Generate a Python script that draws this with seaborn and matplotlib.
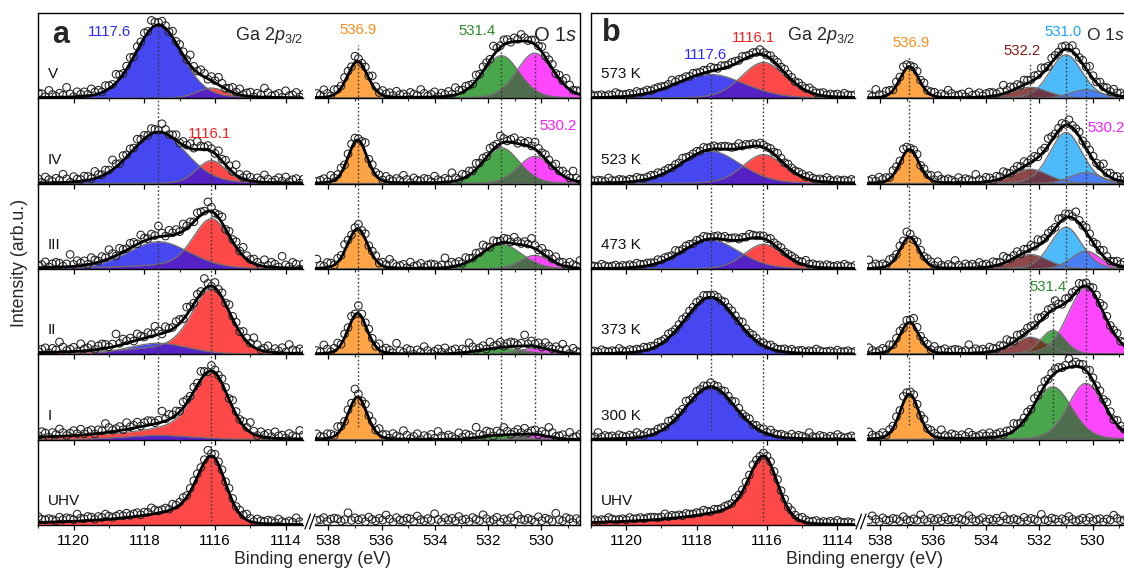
import numpy as np
import matplotlib
matplotlib.use("Agg")
import matplotlib.pyplot as plt
from matplotlib.ticker import FixedLocator, MultipleLocator
import seaborn as sns

# ---------------- data ----------------
ROWS_A = ["V", "IV", "III", "II", "I", "UHV"]
ROWS_B = ["573 K", "523 K", "473 K", "373 K", "300 K", "UHV"]
GA_TICKS = [1120, 1118, 1116, 1114]
O_TICKS = [538, 536, 534, 532, 530]
GA_LIM = [1121.0, 1113.5]
O_LIM = [538.5, 528.55]

# peak positions (eV) as drawn
GA_BLUE_C = 1117.6
GA_RED_C = 1116.1
O_ORANGE_C = 536.9
O_BROWN_C = 532.35
O_GREEN_C = 531.5
O_LBLUE_C = 531.0
O_MAGENTA_C = 530.25

# panel a, Ga 2p3/2 (rows V..UHV): height (row units), fwhm (eV), high-BE tail
A_GA_BLUE_H = [0.86, 0.60, 0.32, 0.13, 0.05, 0.0]
A_GA_BLUE_W = [1.55, 1.85, 2.1, 2.0, 2.4, 1.0]
A_GA_RED_H = [0.12, 0.27, 0.59, 0.77, 0.79, 0.81]
A_GA_RED_W = [1.0, 1.0, 1.2, 1.25, 1.15, 0.95]
A_GA_RED_T = [0.0, 0.0, 0.1, 0.15, 0.25, 0.25]

# panel a, O 1s
A_O_OR_H = [0.43, 0.51, 0.47, 0.48, 0.50, 0.0]
A_O_OR_W = [0.9, 0.85, 0.9, 0.85, 0.85, 1.0]
A_O_GR_H = [0.50, 0.42, 0.29, 0.07, 0.05, 0.0]
A_O_GR_W = [1.6, 1.6, 1.8, 2.0, 1.8, 1.0]
A_O_MG_H = [0.53, 0.32, 0.16, 0.07, 0.05, 0.0]
A_O_MG_W = [1.6, 1.5, 1.3, 1.5, 1.3, 1.0]

# panel b, Ga 2p3/2 (rows 573 K..UHV)
B_GA_BLUE_H = [0.28, 0.38, 0.34, 0.67, 0.62, 0.0]
B_GA_BLUE_W = [2.3, 2.0, 1.9, 1.75, 1.7, 1.0]
B_GA_RED_H = [0.42, 0.34, 0.29, 0.0, 0.0, 0.81]
B_GA_RED_W = [1.5, 1.4, 1.3, 1.0, 1.0, 0.95]
B_GA_RED_T = [0.0, 0.0, 0.0, 0.0, 0.0, 0.25]

# panel b, O 1s
B_O_OR_H = [0.37, 0.40, 0.37, 0.37, 0.53, 0.0]
B_O_OR_W = [0.85, 0.85, 0.85, 0.85, 0.85, 1.0]
B_O_BR_H = [0.13, 0.17, 0.17, 0.20, 0.0, 0.0]
B_O_BR_W = [1.6, 1.6, 1.6, 1.5, 1.0, 1.0]
B_O_GR_H = [0.0, 0.0, 0.0, 0.28, 0.62, 0.0]
B_O_GR_W = [1.0, 1.0, 1.0, 1.1, 1.7, 1.0]
B_O_LB_H = [0.51, 0.60, 0.49, 0.0, 0.0, 0.0]
B_O_LB_W = [1.45, 1.45, 1.4, 1.0, 1.0, 1.0]
B_O_MG_H = [0.10, 0.13, 0.21, 0.78, 0.66, 0.0]
B_O_MG_W = [1.4, 1.4, 1.3, 1.6, 1.6, 1.0]

# scatter of the measured points about the fit (read pattern, in units of row noise level)
NOISE = [0.3, -0.6, 0.9, 0.1, -0.2, 1.4, -0.8, 0.5, 0.0, -0.4,
         0.7, 2.2, -0.1, 0.4, -0.9, 0.6, 0.2, -0.5, 1.1, -0.3,
         0.8, 0.0, -0.7, 0.3, 1.6, -0.2, 0.5, -1.0, 0.4, 0.9,
         -0.4, 0.1, 2.6, -0.6, 0.2, 0.7, -0.3, 1.2, -0.8, 0.0,
         0.6, -0.1, 0.3, 1.8, -0.5, 0.8, -0.2, 0.4, -0.9, 1.0,
         0.1, -0.6, 0.5, 2.0, -0.3, 0.2, 0.9, -0.7, 0.3, 0.0,
         1.3, -0.4, 0.6, -0.1, 0.8, -0.8, 0.2, 2.4, -0.2, 0.5,
         -0.5, 0.1, 1.5, -0.6, 0.4, 0.7, -0.3, 0.0, 0.9, -0.9,
         0.3, 1.9, -0.1, 0.6, -0.4, 0.2, 1.1, -0.7, 0.5, 0.0,
         0.8, -0.2, 2.8, 0.1, -0.5, 0.4, 0.7]
A_GA_NOISE = [0.035, 0.035, 0.04, 0.04, 0.035, 0.02]
A_O_NOISE = [0.03, 0.03, 0.03, 0.035, 0.035, 0.03]
B_GA_NOISE = [0.012, 0.012, 0.012, 0.012, 0.018, 0.012]
B_O_NOISE = [0.025, 0.025, 0.025, 0.025, 0.025, 0.025]
O_UHV_LEVEL = 0.06

# ---------------- style ----------------
sns.set_theme(style="ticks")
plt.rcParams["font.family"] = ["Liberation Sans", "DejaVu Sans"]
plt.rcParams["mathtext.fontset"] = "custom"
plt.rcParams["mathtext.rm"] = "Liberation Sans"
plt.rcParams["mathtext.it"] = "Liberation Sans:italic"
plt.rcParams["mathtext.bf"] = "Liberation Sans:bold"

FILL = {"blue": "#4747f2", "red": "#ff4949", "orange": "#ffa445", "green": "#4aa64a",
        "magenta": "#ff46ff", "lblue": "#4dbbfb", "brown": "#8e4848"}
OVER = {("blue", "red"): "#5522c6", ("green", "magenta"): "#4f6c4f",
        ("lblue", "magenta"): "#4a7ff4", ("brown", "lblue"): "#6e3848",
        ("brown", "green"): "#6b3d22", ("brown", "magenta"): "#7a3a5a",
        ("green", "lblue"): "#3f7f7f"}
TXT = {"blue": "#2b2bff", "red": "#ff1f1f", "orange": "#ff8c1a", "green": "#2e8b2e",
       "magenta": "#ff1aff", "lblue": "#1aa3ff", "brown": "#8b1a1a"}

W, H = 1124, 570
fig = plt.figure(figsize=(W / 100, H / 100), dpi=100)
TOP, BOT = 13.0, 525.0
RH = (BOT - TOP) / 6
COLS = {"aGa": (38.3, 303.3), "aO": (315.0, 580.0), "bGa": (591.0, 855.0), "bO": (867.0, 1131.0)}


def rect(x0, x1, yt, yb):
    return [x0 / W, 1 - yb / H, (x1 - x0) / W, (yb - yt) / H]


def peak(x, c, h, w, tail=0.0, eta=0.2, tail_w=2.0):
    d = x - c
    core = (1 - eta) * np.exp(-4 * np.log(2) * d ** 2 / w ** 2) + eta / (1 + 4 * d ** 2 / w ** 2)
    t = np.where(d > 0, tail, 0.0)
    return h * ((1 - t) * core + t / (1 + (d / tail_w) ** 2))


def draw_row(ax, comps, xlim, step, amp, start, level):
    xf = np.linspace(xlim[1], xlim[0], 800)
    curves = [(n, peak(xf, c, h, w, t)) for n, c, h, w, t in comps if h > 0]
    for n, y in curves:
        ax.fill_between(xf, 0, y, color=FILL[n], lw=0, zorder=1)
    for i in range(len(curves)):
        for j in range(i + 1, len(curves)):
            key = tuple(sorted((curves[i][0], curves[j][0])))
            ax.fill_between(xf, 0, np.minimum(curves[i][1], curves[j][1]),
                            color=OVER.get(key, "#555555"), lw=0, zorder=1.5)
    for n, y in curves:
        ax.plot(xf, y, color="#6e6e6e", lw=0.9, zorder=2)
    xs = np.arange(xlim[1], xlim[0] + 1e-6, step)
    env_s = np.zeros_like(xs)
    for n, c, h, w, t in comps:
        if h > 0:
            env_s += peak(xs, c, h, w, t)
    nz = np.array([NOISE[(start + k) % len(NOISE)] for k in range(len(xs))])
    ys = env_s + level + amp * nz
    sns.scatterplot(x=xs, y=ys, ax=ax, marker="o", s=30, facecolors="none",
                    edgecolors="#202020", linewidth=0.75, zorder=3)
    if curves:
        env = sum(y for _, y in curves)
        sns.lineplot(x=xf, y=env, ax=ax, color="black", linewidth=2.0,
                     estimator=None, errorbar=None, zorder=4)


axes = {}
for r in range(6):
    yt = TOP + r * RH
    yb = yt + RH
    for key, (x0, x1) in COLS.items():
        ax = fig.add_axes(rect(x0, x1, yt, yb))
        axes[(key, r)] = ax
        isga = key.endswith("Ga")
        lim = GA_LIM if isga else O_LIM
        panel = key[0]
        if key == "aGa":
            comps = [("blue", GA_BLUE_C, A_GA_BLUE_H[r], A_GA_BLUE_W[r], 0.0),
                     ("red", GA_RED_C, A_GA_RED_H[r], A_GA_RED_W[r], A_GA_RED_T[r])]
            draw_row(ax, comps, lim, 0.1, A_GA_NOISE[r], r * 13, 0.03)
        elif key == "bGa":
            comps = [("blue", GA_BLUE_C, B_GA_BLUE_H[r], B_GA_BLUE_W[r], 0.0),
                     ("red", GA_RED_C, B_GA_RED_H[r], B_GA_RED_W[r], B_GA_RED_T[r])]
            draw_row(ax, comps, lim, 0.1, B_GA_NOISE[r], r * 19 + 40, 0.025)
        elif key == "aO":
            comps = [("orange", O_ORANGE_C, A_O_OR_H[r], A_O_OR_W[r], 0.0),
                     ("green", O_GREEN_C, A_O_GR_H[r], A_O_GR_W[r], 0.0),
                     ("magenta", O_MAGENTA_C, A_O_MG_H[r], A_O_MG_W[r], 0.0)]
            draw_row(ax, comps, lim, 0.13, A_O_NOISE[r], r * 23 + 7,
                     O_UHV_LEVEL if r == 5 else 0.03)
        else:
            comps = [("orange", O_ORANGE_C, B_O_OR_H[r], B_O_OR_W[r], 0.0),
                     ("brown", O_BROWN_C, B_O_BR_H[r], B_O_BR_W[r], 0.0),
                     ("green", O_GREEN_C, B_O_GR_H[r], B_O_GR_W[r], 0.0),
                     ("lblue", O_LBLUE_C, B_O_LB_H[r], B_O_LB_W[r], 0.0),
                     ("magenta", O_MAGENTA_C, B_O_MG_H[r], B_O_MG_W[r], 0.0)]
            draw_row(ax, comps, lim, 0.13, B_O_NOISE[r], r * 29 + 55,
                     O_UHV_LEVEL if r == 5 else 0.03)
        ax.set_xlim(lim)
        ax.set_ylim(0, 1.0)
        ax.set_yticks([])
        ax.set_xlabel("")
        ax.set_ylabel("")
        ax.patch.set_alpha(0)
        ax.xaxis.set_major_locator(FixedLocator(GA_TICKS if isga else O_TICKS))
        ax.xaxis.set_minor_locator(MultipleLocator(1))
        ax.tick_params(axis="x", which="major", direction="out", length=3.8, width=0.9,
                       labelsize=11, pad=3, colors="black", labelbottom=(r == 5))
        ax.tick_params(axis="x", which="minor", direction="out", length=2.2, width=0.8)
        for s in ax.spines.values():
            s.set_linewidth(1.0)
            s.set_color("black")
        ax.spines["top"].set_visible(False)
        ax.spines["left"].set_visible(isga)
        ax.spines["right"].set_visible(not isga)
        if isga:
            names = ROWS_A if panel == "a" else ROWS_B
            ax.text(0.036, 0.28, names[r], transform=ax.transAxes, fontsize=11,
                    ha="left", va="center", color="#111111")

# ---------------- peak labels ----------------
tr = lambda ax: ax.get_xaxis_transform()
LABELS = [
    ("aGa", 0, "1117.6", 1118.99, 0.78, "blue"),
    ("aGa", 1, "1116.1", 1116.15, 0.58, "red"),
    ("aO", 0, "536.9", 536.9, 0.80, "orange"),
    ("aO", 0, "531.4", 532.43, 0.79, "green"),
    ("aO", 1, "530.2", 529.37, 0.68, "magenta"),
    ("bGa", 0, "1117.6", 1117.75, 0.51, "blue"),
    ("bGa", 0, "1116.1", 1116.39, 0.71, "red"),
    ("bO", 0, "536.9", 536.82, 0.65, "orange"),
    ("bO", 0, "532.2", 532.66, 0.55, "brown"),
    ("bO", 0, "531.0", 531.11, 0.78, "lblue"),
    ("bO", 1, "530.2", 529.47, 0.65, "magenta"),
    ("bO", 3, "531.4", 531.68, 0.79, "green"),
]
for key, r, s, x, yf, c in LABELS:
    ax = axes[(key, r)]
    ax.text(x, yf, s, transform=tr(ax), color=TXT[c], fontsize=10.7,
            ha="center", va="center", zorder=6)

for key in ("aGa", "bGa"):
    ax = axes[(key, 0)]
    ax.text(0.998, 0.74, r"Ga 2$p_{3/2}$", transform=ax.transAxes, fontsize=13,
            ha="right", va="center", zorder=6)
ax = axes[("aO", 0)]
ax.text(0.988, 0.74, r"O $\mathit{1s}$", transform=ax.transAxes, fontsize=14.5,
        ha="right", va="center", zorder=6)

# ---------------- dotted guide lines ----------------
GUIDES = {
    "aGa": [(GA_BLUE_C, 5.86, 1.31), (GA_RED_C, 4.42, 0.0)],
    "aO": [(O_ORANGE_C, 5.63, 1.15), (O_GREEN_C, 5.72, 1.15), (O_MAGENTA_C, 5.51, 1.15)],
    "bGa": [(GA_BLUE_C, 5.27, 1.11), (GA_RED_C, 5.57, 0.05)],
    "bO": [(O_ORANGE_C, 5.49, 1.17), (O_BROWN_C, 5.41, 2.15), (O_LBLUE_C, 5.51, 2.85),
           (O_MAGENTA_C, 5.43, 1.23), (O_GREEN_C, 2.70, 1.20)],
}
for key, (x0, x1) in COLS.items():
    ov = fig.add_axes(rect(x0, x1, TOP, BOT))
    ov.set_xlim(GA_LIM if key.endswith("Ga") else O_LIM)
    ov.set_ylim(0, 6)
    ov.axis("off")
    for x, y0, y1 in GUIDES[key]:
        ov.vlines(x, y1, y0, colors="#3a3a3a", linestyles=(0, (1.2, 1.6)), lw=1.0)

# ---------------- frame, breaks, panel letters, axis titles ----------------
fo = fig.add_axes([0, 0, 1, 1])
fo.set_xlim(0, W)
fo.set_ylim(H, 0)
fo.axis("off")
fo.plot([COLS["aGa"][0], COLS["aO"][1]], [TOP, TOP], color="black", lw=1.0)
fo.plot([COLS["bGa"][0], W + 10], [TOP, TOP], color="black", lw=1.0)
for bx in (305.0, 856.0):
    for dx in (0.0, 4.5):
        fo.plot([bx + dx, bx + dx + 5.5], [529, 514], color="black", lw=0.9)
fo.text(1086, 35, r"O $\mathit{1s}$", fontsize=12.5, ha="left", va="center", zorder=6)
fo.text(61, 35, "a", fontsize=22, fontweight="bold", ha="center", va="center")
fo.text(611, 33, "b", fontsize=22, fontweight="bold", ha="center", va="center")
fo.text(312, 560, "Binding energy (eV)", fontsize=12.8, ha="center", va="center")
fo.text(864, 560, "Binding energy (eV)", fontsize=12.8, ha="center", va="center")
fo.text(20, 263, "Intensity (arb.u.)", fontsize=12.8, ha="center", va="center",
        rotation=90)

fig.savefig("out.png", dpi=100)
